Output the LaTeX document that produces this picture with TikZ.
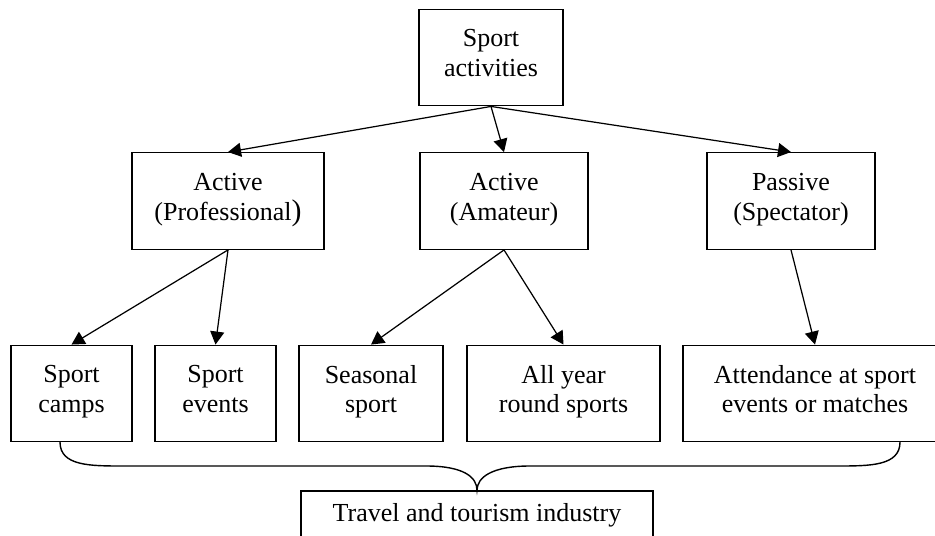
\documentclass[tikz,border=0pt]{standalone}
\usepackage{fontspec}
\setmainfont{Liberation Serif}
\usetikzlibrary{arrows.meta}
\begin{document}
\begin{tikzpicture}[
    x=0.02cm,y=-0.02cm,
    >={Triangle[length=2.6mm,width=2.8mm]},
    box/.style={
        draw,
        line width=0.8pt,
        align=center,
        inner sep=0pt,
        minimum height=1.93cm,
        execute at begin node=\strut,
        execute at end node=\strut,
        font=\fontsize{14.8}{17}\selectfont
    },
    arr/.style={
        ->,
        line width=0.7pt
    },
    brace/.style={line width=0.8pt}
    ]

  \clip (0,0) rectangle (935,536);

  \node[box,minimum width=2.88cm] (act) at (491,57.5) {Sport\\activities};

  \node[box,minimum width=3.84cm] (pro) at (228,201) {Active\\(Professional{\fontsize{17}{17}\selectfont )}};
  \node[box,minimum width=3.36cm] (ama) at (504,201) {Active\\(Amateur)};
  \node[box,minimum width=3.36cm] (pas) at (791,201) {Passive\\(Spectator)};

  \node[box,minimum width=2.42cm] (camps) at (71.5,393.5) {Sport\\camps};
  \node[box,minimum width=2.42cm] (events) at (215.5,393.5) {Sport\\events};
  \node[box,minimum width=2.88cm] (seas) at (371,393.5) {Seasonal\\sport};
  \node[box,minimum width=3.86cm] (year) at (563.5,393.5) {All year\\round sports};
  \node[box,minimum width=5.28cm] (att) at (815,393.5) {Attendance at sport\\events or matches};

  \node[box,minimum width=7.04cm,minimum height=0.98cm] (travel) at (477,515.5) {Travel and tourism industry};

  \draw[arr] (act.south) -- (pro.north);
  \draw[arr] (act.south) -- (ama.north);
  \draw[arr] (act.south) -- (pas.north);

  \draw[arr] (pro.south) -- (camps.north);
  \draw[arr] (pro.south) -- (events.north);
  \draw[arr] (ama.south) -- (seas.north);
  \draw[arr] (ama.south) -- (year.north);
  \draw[arr] (pas.south) -- (att.north);

  % brace under the bottom row
  \coordinate (bl) at (60,442);
  \coordinate (br) at (900,442);
  \draw[brace] (bl) .. controls +(0,24) and +(-33,0) .. (123,466) -- (426,466)
    .. controls +(38,0) and +(0,-13) .. (travel.north)
    .. controls +(0,-13) and +(-38,0) .. (530,466) -- (837,466)
    .. controls +(33,0) and +(0,24) .. (br);
\end{tikzpicture}
\end{document}
